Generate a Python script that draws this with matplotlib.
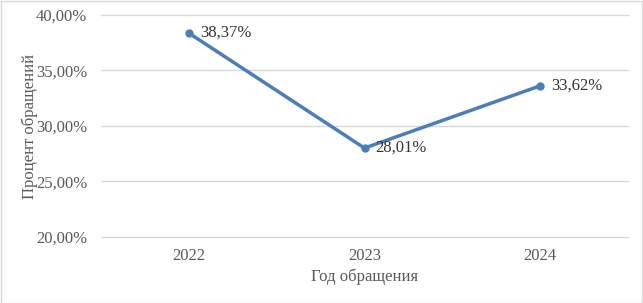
import matplotlib.pyplot as plt
from matplotlib.ticker import FuncFormatter
from matplotlib.patches import Rectangle

# data
years = ["2022", "2023", "2024"]
shares = [38.37, 28.01, 33.62]

plt.rcParams['font.family'] = ['Liberation Serif', 'DejaVu Serif']
text_color = "#595959"
line_color = "#4a7ebb"

fig = plt.figure(figsize=(6.43, 3.03), dpi=100)
ax = fig.add_axes([101 / 643, 1 - 237 / 303, (628 - 101) / 643, (237 - 15) / 303])

x = list(range(len(years)))
ax.plot(x, shares, color=line_color, linewidth=2.5, marker="o", markersize=5,
        solid_capstyle="round", zorder=3)

# data labels to the right of each point
for xi, v in zip(x, shares):
    ax.annotate(f"{v:.2f}%".replace(".", ","), (xi, v), xytext=(8, 0),
                textcoords="offset points", ha="left", va="center",
                fontsize=12, color="#333333")

ax.set_xlim(-0.5, len(years) - 0.5)
ax.set_ylim(20, 40)
ax.set_yticks([20, 25, 30, 35, 40])
ax.yaxis.set_major_formatter(FuncFormatter(lambda v, p: f"{v:.2f}%".replace(".", ",")))
ax.set_xticks(x)
ax.set_xticklabels(years)

ax.grid(axis="y", color="#d9d9d9", linewidth=1)
for gl in ax.get_ygridlines():
    gl.set_clip_on(False)
ax.set_axisbelow(True)
for s in ax.spines.values():
    s.set_visible(False)
ax.tick_params(length=0, labelsize=12, colors=text_color)
ax.tick_params(axis="x", pad=8)
ax.tick_params(axis="y", pad=10)

ax.set_xlabel("Год обращения", fontsize=12, color=text_color, labelpad=3)
ax.set_ylabel("Процент обращений", fontsize=12, color=text_color)
ax.yaxis.set_label_coords(-0.12, 0.5)

# light frame around the whole chart
fig.patches.append(Rectangle((0.5 / 643, 0.5 / 303), 1 - 1.5 / 643, 1 - 1.5 / 303,
                             transform=fig.transFigure, fill=False,
                             edgecolor="#d9d9d9", linewidth=1))

fig.savefig("out.png", dpi=100)
